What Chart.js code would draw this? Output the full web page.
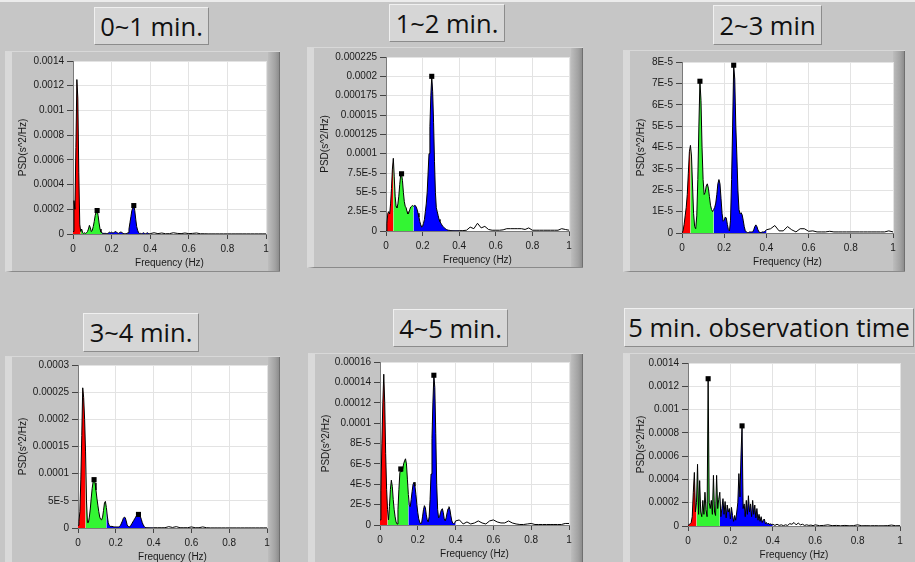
<!DOCTYPE html>
<html><head><meta charset="utf-8">
<script src="https://cdn.jsdelivr.net/npm/chart.js@4.4.1/dist/chart.umd.min.js"></script>
<style>
html,body{margin:0;padding:0;width:915px;height:562px;overflow:hidden;background:#c6c6c6;}
#topline{position:absolute;left:0;top:0;width:915px;height:2px;background:#ececec;}
.frame{position:absolute;box-sizing:border-box;background:#c4c4c4;border-left:7px solid #d9d9d9;border-top:1px solid #d8d8d8;border-bottom:1px solid #8a8a8a;}
.frame .rs{position:absolute;top:0;bottom:0;right:0;width:12px;background:linear-gradient(to right,#bdbdbd,#a2a2a2 60%,#8e8e8e 90%,#5a5a5a);}
.title{position:absolute;box-sizing:border-box;background:#d6d6d6;border:1px solid;border-color:#f0f0f0 #8c8c8c #8c8c8c #f0f0f0;font-family:'Open Sans',sans-serif;font-size:25.5px;color:#111;text-align:center;white-space:nowrap;overflow:hidden;}
canvas{position:absolute;}
</style></head><body>
<div id="topline"></div>
<div id="root"></div>
<script>
// ---------- DATA (PSD values in units of 1E-5 s^2/Hz) ----------
const TITLES = ['0~1 min.', '1~2 min.', '2~3 min', '3~4 min.', '4~5 min.', '5 min. observation time'];

const FREQ = [0,0.005,0.01,0.015,0.02,0.025,0.03,0.035,0.04,0.045,
  0.05,0.055,0.06,0.065,0.07,0.075,0.08,0.085,0.09,0.095,
  0.1,0.105,0.11,0.115,0.12,0.125,0.13,0.135,0.14,0.145,
  0.15,0.155,0.16,0.165,0.17,0.175,0.18,0.185,0.19,0.195,
  0.2,0.205,0.21,0.215,0.22,0.225,0.23,0.235,0.24,0.245,
  0.25,0.255,0.26,0.265,0.27,0.275,0.28,0.285,0.29,0.295,
  0.3,0.305,0.31,0.315,0.32,0.325,0.33,0.335,0.34,0.345,
  0.35,0.355,0.36,0.365,0.37,0.375,0.38,0.385,0.39,0.395,0.4,
  0.42,0.44,0.46,0.48,0.5,0.52,0.54,0.56,0.58,0.6,
  0.62,0.64,0.66,0.68,0.7,0.72,0.74,0.76,0.78,0.8,
  0.82,0.84,0.86,0.88,0.9,0.92,0.94,0.96,0.98,1];

const FREQ_5MIN = [0,0.005,0.01,0.015,0.02,0.025,0.03,0.035,0.04,0.045,
  0.05,0.055,0.06,0.065,0.07,0.075,0.08,0.085,0.09,0.095,
  0.1,0.105,0.11,0.115,0.12,0.125,0.13,0.135,0.14,0.145,
  0.15,0.155,0.16,0.165,0.17,0.175,0.18,0.185,0.19,0.195,
  0.2,0.205,0.21,0.215,0.22,0.225,0.23,0.235,0.24,0.245,
  0.25,0.255,0.26,0.265,0.27,0.275,0.28,0.285,0.29,0.295,
  0.3,0.305,0.31,0.315,0.32,0.325,0.33,0.335,0.34,0.345,
  0.35,0.355,0.36,0.365,0.37,0.375,0.38,0.385,0.39,0.395,0.4,
  0.41,0.42,0.43,0.44,0.45,0.46,0.47,0.48,0.49,0.5,
  0.51,0.52,0.53,0.54,0.55,0.56,0.57,0.58,0.59,0.6,
  0.62,0.64,0.66,0.68,0.7,0.72,0.74,0.76,0.78,0.8,
  0.82,0.84,0.86,0.88,0.9,0.92,0.94,0.96,0.98,1];

const PSD_0_1 = [2,27,20,70,125,110,50,8,2,4,
  1,0.5,1,0.5,1,2,4,7,5,2,
  3,6,10,15,18,19,15,9,4,1.5,
  1,0.5,0.5,0.5,0.5,0.3,0.5,1,1.5,1,
  1.5,1,1,1.5,2,1.5,1,0.5,1,1.5,
  1.5,1,0.5,0.2,0.2,0.2,0.5,1,4,9,
  14,19,21,23,19,12,6,3,1,0.5,
  0.5,0.3,0.5,1,0.5,0.2,0.5,1,0.5,0.2,0.3,
  1,0.3,0.8,0.2,0.3,1,0.5,0.3,0.8,0.3,
  0.5,0.8,0.2,0.2,0.1,0.1,0.1,0.1,0.1,0.1,
  0.1,0.1,0.1,0.1,0.1,0.1,0.1,0.1,0.1,0.1];

const PSD_1_2 = [0,1,2.3,2.5,2.2,3.5,5.5,8,9.4,7,
  4.5,3.2,3,3.5,4.5,6,7.2,7.4,6.5,5,
  3.8,3.2,3,2.5,2.2,2.4,2.8,3.1,3.2,3.3,
  3.2,3.3,3.3,3.1,2.8,2.3,1.8,1.2,0.8,0.5,
  0.6,1,1.5,2.5,3.5,5,7.5,10,13.5,17.5,
  20,18,14,9,5,3,2.5,2,1.5,1.2,
  1,0.8,0.6,0.5,0.4,0.3,0.2,0.15,0.1,0.1,
  0.05,0.05,0.05,0.05,0.05,0.05,0.05,0.05,0.05,0.05,0.05,
  0.05,0.1,0.5,0.3,1,0.4,0.6,0.2,0.1,0.1,
  0.1,0.15,0.3,0.3,0.3,0.3,0.3,0.2,0.4,0.1,
  0.1,0.1,0.1,0.1,0.1,0.1,0.1,0.3,0.2,0.1];

const PSD_2_3 = [0,0.1,0.4,0.8,1.2,1.8,2.8,3.8,4.1,3.6,
  2.2,0.9,0.3,0.2,0.8,2.5,5,7.1,6.2,4,
  2.5,1.8,1.9,2.2,2.3,2.1,1.7,1.3,1.1,1,
  1.1,1.2,1.4,1.8,2.3,2.5,2.3,1.6,0.9,0.55,
  0.6,0.75,0.7,0.4,0.15,0.1,0.6,2.5,5,7.85,
  7.2,5,3.6,2,1.1,0.9,0.95,0.85,0.6,0.3,
  0.1,0.05,0.02,0.02,0.05,0.05,0.05,0.05,0.15,0.3,
  0.38,0.3,0.15,0.05,0.02,0.02,0.05,0.05,0.05,0.1,0.15,
  0.2,0.35,0.1,0.1,0.3,0.15,0.05,0.2,0.2,0.08,
  0.1,0.05,0.05,0.05,0.08,0.05,0.05,0.05,0.05,0.05,
  0.05,0.05,0.05,0.05,0.05,0.05,0.05,0.05,0.1,0.05];

const PSD_3_4 = [0.5,1.2,3,9,17,25.8,24,20,14,5,
  1,1,2,3.5,5.5,7.3,8.5,8.9,8.3,7,
  5.5,4.2,3,2,1.6,1.5,2,3.2,4.6,4.9,
  3.8,2.2,1,0.5,0.3,0.3,0.3,0.3,0.2,0.2,
  0.2,0.2,0.2,0.2,0.3,0.5,0.9,1.3,1.8,2,
  1.9,1.3,0.6,0.3,0.2,0.3,0.5,0.8,1.1,1.4,
  1.7,2,2.3,2.5,2.5,2.4,2.1,1.6,1,0.6,
  0.3,0.1,0.05,0.05,0.05,0.05,0.05,0.05,0.05,0.05,0.05,
  0.05,0.05,0.05,0.25,0.1,0.25,0.05,0.05,0.05,0.2,
  0.05,0.05,0.2,0.05,0.02,0.02,0.02,0.02,0.02,0.02,
  0.02,0.02,0.02,0.02,0.02,0.02,0.02,0.02,0.02,0.02];

const PSD_4_5 = [0.5,3.4,8,12,14.8,12,7,3.5,1.5,0.5,
  1.8,3.5,4.4,3.8,2.5,1.5,0.8,0.3,0.1,1.5,
  3.5,5.1,5.5,5.2,5.5,6,6.3,6.5,6,4.5,
  3,2,1.8,2.5,3.3,4,4.2,3.8,3,2,
  1.2,0.6,0.3,0.1,0.2,0.8,1.5,1.9,1.7,1,
  0.5,0.3,0.8,2.5,5,8.5,12,14.7,13.5,9,
  4,1.5,0.7,0.8,1.2,1.5,1.6,1.2,0.6,0.4,
  0.7,1.2,1.6,1.8,1.5,0.9,0.4,0.2,0.1,0.2,0.4,
  0.5,0.1,0.3,0.1,0.2,0.4,0.2,0.1,0.4,0.5,
  0.3,0.2,0.2,0.4,0.2,0.1,0.05,0.05,0.1,0.15,
  0.05,0.05,0.05,0.05,0.05,0.05,0.05,0.05,0.15,0.15];

const PSD_5MIN = [0.5,1,2,3,8,29,46,12,20,53,
  10,39,12,8,22,10,29,14,8,126.5,
  20,15,22,10,43.5,12,9,43.5,15,23,
  29,8,15,23.5,10,21,7,18,12,15,
  6,16,9,4,9,5,12,20,45,25,
  61,86,15,19,8,22,10,26,12,19,
  8,22,10,18,7,15,5,10,4,8,
  3,5,6,2,3,1.5,2.5,1,2,1,1.5,
  0.5,1.5,0.5,1,0.3,1,0.5,2,1.5,3,
  1,2.5,1,1.5,0.5,1,0.5,0.8,0.3,1,
  0.3,0.5,1,0.3,0.5,0.2,0.5,0.2,0.3,1,
  0.2,0.3,0.2,0.3,0.2,0.2,0.3,0.8,0.2,0.3];

// peak markers
const PEAK_X = [[0.125,0.315],[0.085,0.25],[0.085,0.245],[0.085,0.32],[0.11,0.285],[0.095,0.255]];
const PEAK_Y = [[19,23],[7.4,20],[7.1,7.85],[8.9,2.5],[5.5,14.7],[126.5,86]];

// axis ticks (y values in units of 1E-5)
const X_TICKS = [0,0.2,0.4,0.6,0.8,1];
const X_TICK_LABELS = ['0','0.2','0.4','0.6','0.8','1'];
const Y_TICKS_A = [0,20,40,60,80,100,120,140];
const Y_LABELS_A = ['0','0.0002','0.0004','0.0006','0.0008','0.001','0.0012','0.0014'];
const Y_TICKS_B = [0,2.5,5,7.5,10,12.5,15,17.5,20,22.5];
const Y_LABELS_B = ['0','2.5E-5','5E-5','7.5E-5','0.0001','0.000125','0.00015','0.000175','0.0002','0.000225'];
const Y_TICKS_C = [0,1,2,3,4,5,6,7,8];
const Y_LABELS_C = ['0','1E-5','2E-5','3E-5','4E-5','5E-5','6E-5','7E-5','8E-5'];
const Y_TICKS_D = [0,5,10,15,20,25,30];
const Y_LABELS_D = ['0','5E-5','0.0001','0.00015','0.0002','0.00025','0.0003'];
const Y_TICKS_E = [0,2,4,6,8,10,12,14,16];
const Y_LABELS_E = ['0','2E-5','4E-5','6E-5','8E-5','0.0001','0.00012','0.00014','0.00016'];

const BAND_EDGES = [0, 0.04, 0.15, 0.4];
const BAND_COLORS = ['#ff0000', '#33f533', '#0000ff'];

// ---------- LAYOUT ----------
const LAYOUT = [
  {frame:[5,51,280,272],  plot:[73,61,266,234],  title:[94,7,209,45]},
  {frame:[307,47,583,268],plot:[386,57,569,231], title:[389,4,505,42]},
  {frame:[623,50,905,272],plot:[682,62,893,233], title:[713,5,822,45]},
  {frame:[5,356,280,575], plot:[78,365,267,528], title:[83,313,199,352]},
  {frame:[308,353,583,575],plot:[380,362,569,525],title:[393,309,508,347]},
  {frame:[623,353,940,575],plot:[688,363,900,526],title:[624,308,914,347]}
];
const SERIES = [
  [FREQ, PSD_0_1, Y_TICKS_A, Y_LABELS_A],
  [FREQ, PSD_1_2, Y_TICKS_B, Y_LABELS_B],
  [FREQ, PSD_2_3, Y_TICKS_C, Y_LABELS_C],
  [FREQ, PSD_3_4, Y_TICKS_D, Y_LABELS_D],
  [FREQ, PSD_4_5, Y_TICKS_E, Y_LABELS_E],
  [FREQ_5MIN, PSD_5MIN, Y_TICKS_A, Y_LABELS_A]
];

Chart.defaults.font.family = "'Liberation Sans', Arial, sans-serif";
Chart.defaults.font.size = 10;
Chart.defaults.color = '#1a1a1a';

const plotBg = {id:'plotBg', beforeDraw(c){const a=c.chartArea,ctx=c.ctx;ctx.save();ctx.fillStyle='#ffffff';ctx.fillRect(a.left,a.top,a.right-a.left,a.bottom-a.top);ctx.restore();}};

const root = document.getElementById('root');
LAYOUT.forEach((L, i) => {
  const [fx0, fy0, fx1, fy1] = L.frame;
  const fr = document.createElement('div');
  fr.className = 'frame';
  Object.assign(fr.style, {left:fx0+'px', top:fy0+'px', width:(fx1-fx0)+'px', height:(fy1-fy0)+'px'});
  const rs = document.createElement('div'); rs.className = 'rs'; fr.appendChild(rs);
  root.appendChild(fr);

  const [tx0, ty0, tx1, ty1] = L.title;
  const t = document.createElement('div');
  t.className = 'title';
  t.textContent = TITLES[i];
  Object.assign(t.style, {left:tx0+'px', top:ty0+'px', width:(tx1-tx0)+'px', height:(ty1-ty0)+'px', lineHeight:(ty1-ty0-2)+'px'});
  root.appendChild(t);

  const [pl, pt, pr, pb] = L.plot;
  const RIGHT_PAD = 12, X_AXIS_H = 38;
  const cv = document.createElement('canvas');
  const cw = pr + RIGHT_PAD - fx0, ch = pb + X_AXIS_H - fy0;
  cv.width = cw; cv.height = ch;
  Object.assign(cv.style, {left:fx0+'px', top:fy0+'px', width:cw+'px', height:ch+'px'});
  root.appendChild(cv);

  const [freq, psd, yT, yL] = SERIES[i];
  const pts = freq.map((x, k) => ({x, y: psd[k]}));
  const datasets = [];
  datasets.push({data: PEAK_X[i].map((x,k)=>({x, y: PEAK_Y[i][k]})), showLine:false, pointStyle:'rect', pointRadius:3.6,
    pointBackgroundColor:'#000', pointBorderColor:'#000', pointBorderWidth:0, order:0});
  datasets.push({data: pts, borderColor:'#000', borderWidth:1, pointRadius:0, fill:false, tension:0, order:1});
  for (let b = 0; b < 3; b++) {
    const a0 = BAND_EDGES[b], a1 = BAND_EDGES[b+1];
    datasets.push({data: pts.filter(p => p.x >= a0 - 1e-9 && p.x <= a1 + 1e-9), borderColor:'rgba(0,0,0,0)', borderWidth:0,
      pointRadius:0, fill:'origin', backgroundColor: BAND_COLORS[b], tension:0, order:2});
  }

  new Chart(cv, {
    type: 'line',
    data: {datasets},
    plugins: [plotBg],
    options: {
      responsive:false, animation:false, devicePixelRatio:1,
      layout:{padding:{top: pt - fy0, right: RIGHT_PAD, left:0, bottom:0}},
      plugins:{legend:{display:false}, tooltip:{enabled:false}},
      scales:{
        x:{type:'linear', min:0, max:1,
          afterBuildTicks: s => { s.ticks = X_TICKS.map(v => ({value:v})); },
          afterFit: s => { s.height = X_AXIS_H; },
          ticks:{autoSkip:false, maxRotation:0, minRotation:0, padding:4, callback:(v, k) => X_TICK_LABELS[k]},
          grid:{color:'#e3e3e3', tickColor:'#444', tickLength:5},
          border:{color:'#7a7a7a'},
          title:{display:true, text:'Frequency (Hz)', font:{size:10}, padding:{top:0, bottom:3}}
        },
        y:{type:'linear', min:0, max:yT[yT.length-1],
          afterBuildTicks: s => { s.ticks = yT.map(v => ({value:v})); },
          afterFit: s => { s.width = pl - fx0; },
          ticks:{autoSkip:false, padding:3, callback:(v, k) => yL[k]},
          grid:{color:'#e3e3e3', tickColor:'#444', tickLength:6},
          border:{color:'#7a7a7a'},
          title:{display:true, text:'PSD(s^2/Hz)', font:{size:10}, padding:{top:12, bottom:0}}
        }
      }
    }
  });
});
</script>
</body></html>
